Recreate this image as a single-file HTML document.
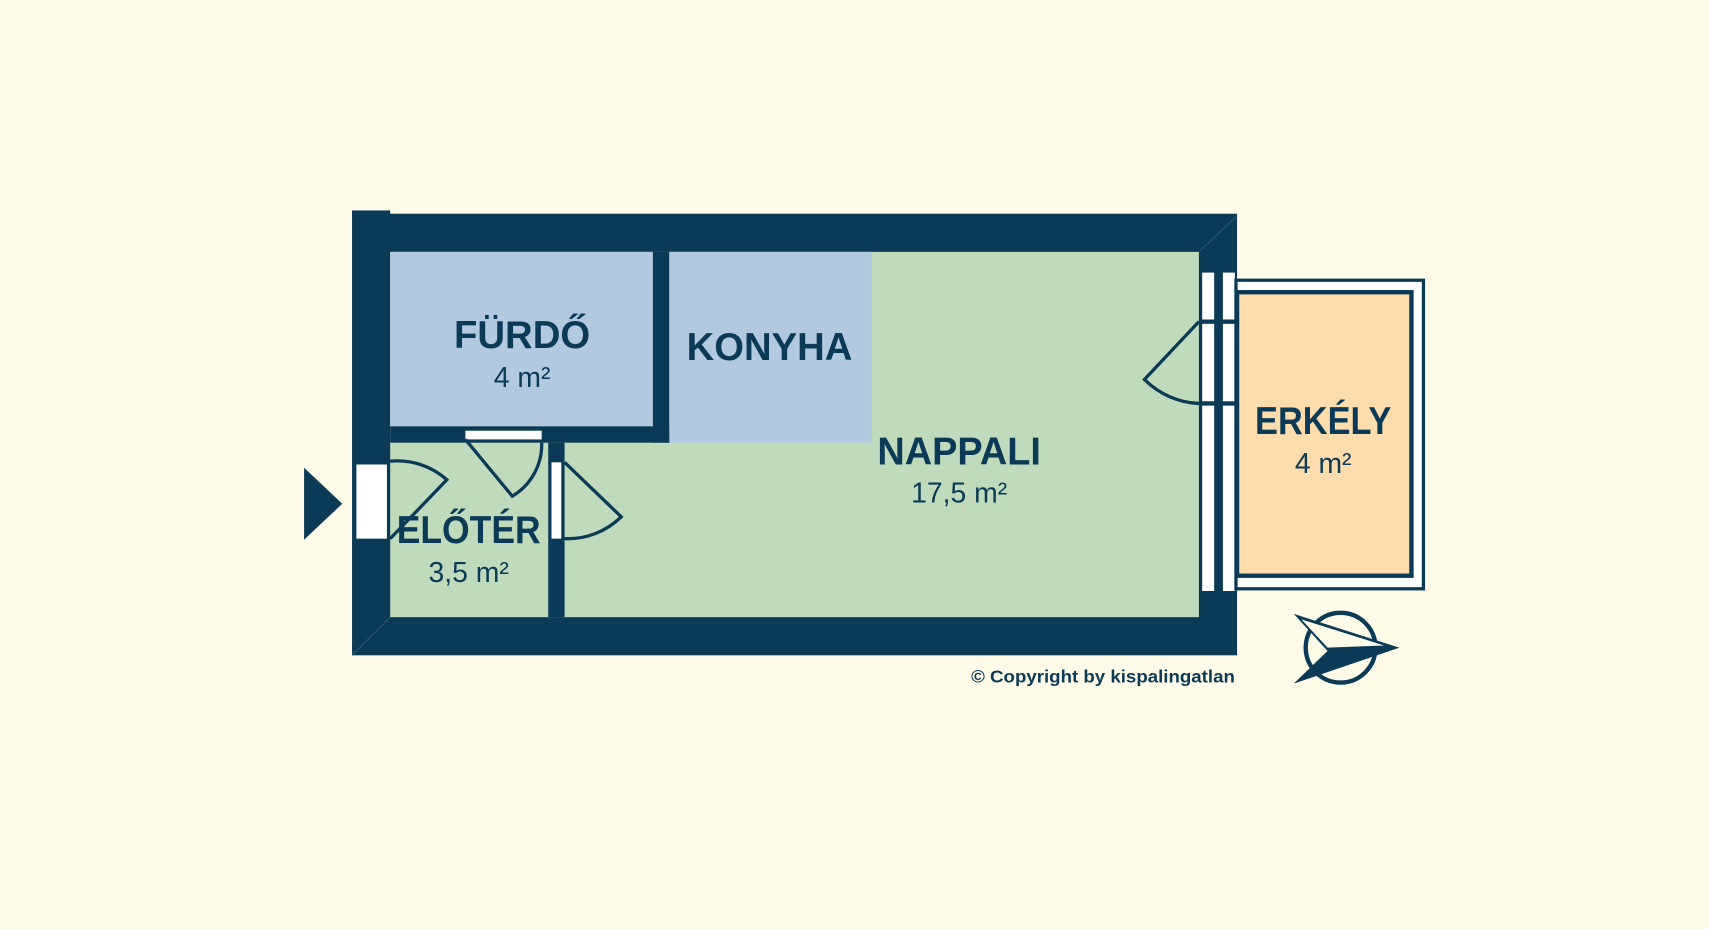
<!DOCTYPE html>
<html><head><meta charset="utf-8"><style>html,body{margin:0;padding:0;background:#fefbe8}svg{display:block}</style></head>
<body>
<svg width="1709" height="929" viewBox="0 0 1568 852" preserveAspectRatio="none" xmlns="http://www.w3.org/2000/svg" font-family="'Liberation Sans', sans-serif">
<rect width="1568" height="852" fill="#fefbe8"/>
<!-- outer walls -->
<rect x="323" y="196" width="812" height="405" fill="#0b3a57"/>
<rect x="323" y="193" width="35" height="5" fill="#0b3a57"/>
<!-- rooms -->
<rect x="358" y="231" width="742" height="335" fill="#c0dabb"/>
<rect x="358" y="231" width="241" height="160" fill="#b3c9e0"/>
<rect x="614" y="231" width="186" height="175" fill="#b3c9e0"/>
<!-- inner walls -->
<rect x="599" y="231" width="15" height="175" fill="#0b3a57"/>
<rect x="358" y="391" width="256" height="15" fill="#0b3a57"/>
<rect x="503" y="406" width="15" height="160" fill="#0b3a57"/>
<!-- bathroom door -->
<rect x="427" y="395" width="70" height="8" fill="#fff"/>
<path d="M427 403 L470 455 A55 55 0 0 0 497 406" fill="none" stroke="#0b3a57" stroke-width="3"/>
<!-- entrance -->
<rect x="327" y="426" width="28" height="68" fill="#fff"/>
<polygon points="279,429 314,462 279,495" fill="#0b3a57"/>
<path d="M358 423 A68 68 0 0 1 410 440 L358 494" fill="none" stroke="#0b3a57" stroke-width="3"/>
<!-- living door -->
<rect x="506" y="424" width="9" height="70" fill="#fff"/>
<path d="M518 424 L570 474 A70 70 0 0 1 518 494" fill="none" stroke="#0b3a57" stroke-width="3"/>
<!-- right windows -->
<rect x="1103" y="250" width="11" height="292" fill="#fff"/>
<rect x="1122" y="250" width="11" height="292" fill="#fff"/>
<line x1="1118" y1="250" x2="1118" y2="542" stroke="#0b3a57" stroke-width="2"/>
<rect x="1100" y="293" width="35" height="4" fill="#0b3a57"/>
<rect x="1100" y="368" width="35" height="4" fill="#0b3a57"/>
<path d="M1100 295 L1050 348 A75 75 0 0 0 1100 370" fill="none" stroke="#0b3a57" stroke-width="3"/>
<line x1="1100" y1="231" x2="1135" y2="198" stroke="#2a5672" stroke-width="1"/>
<line x1="323" y1="601" x2="358" y2="566" stroke="#2a5672" stroke-width="1"/>
<!-- balcony -->
<rect x="1134" y="257" width="172" height="283" fill="#fff" stroke="#0b3a57" stroke-width="3"/>
<rect x="1135" y="268" width="160" height="260" fill="#fddcad" stroke="#0b3a57" stroke-width="4"/>
<!-- compass -->
<circle cx="1230" cy="594" r="32" fill="none" stroke="#0b3a57" stroke-width="4"/>
<polygon points="1187,563 1284,594 1187,627 1218,597" fill="#0b3a57"/>
<polygon points="1194,568 1270,592 1218,594" fill="#fefbe8"/>
<!-- texts -->
<g fill="#0b3a57" text-anchor="middle" font-weight="bold">
<text x="479" y="319" font-size="36" textLength="125" lengthAdjust="spacingAndGlyphs">FÜRDŐ</text>
<text x="706" y="330" font-size="36" textLength="152" lengthAdjust="spacingAndGlyphs">KONYHA</text>
<text x="880" y="426" font-size="36" textLength="150" lengthAdjust="spacingAndGlyphs">NAPPALI</text>
<text x="430" y="498" font-size="36" textLength="132" lengthAdjust="spacingAndGlyphs">ELŐTÉR</text>
<text x="1214" y="398" font-size="36" textLength="125" lengthAdjust="spacingAndGlyphs">ERKÉLY</text>
</g>
<g fill="#0b3a57" text-anchor="middle" font-size="26">
<text x="479" y="355">4 m²</text>
<text x="880" y="461">17,5 m²</text>
<text x="430" y="534">3,5 m²</text>
<text x="1214" y="434">4 m²</text>
</g>
<text x="1012" y="626" font-size="16" font-weight="bold" fill="#0b3a57" text-anchor="middle" textLength="242" lengthAdjust="spacingAndGlyphs">© Copyright by kispalingatlan</text>
</svg>
</body></html>
